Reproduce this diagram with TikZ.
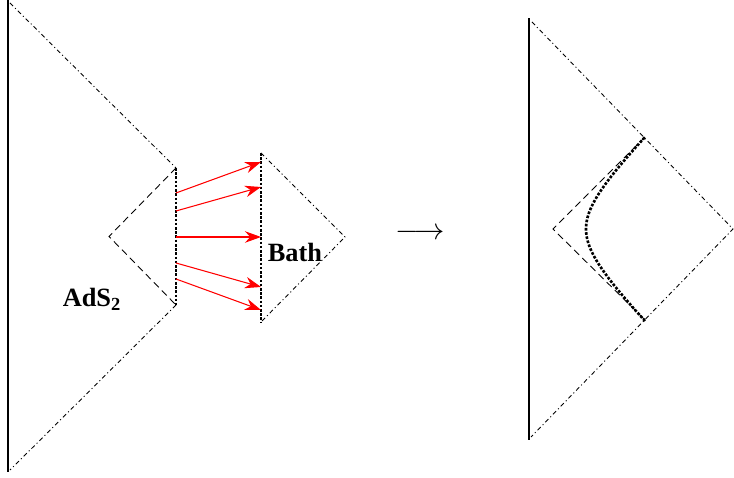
\documentclass[tikz,border=0pt]{standalone}
\usepackage{fontspec}
\setmainfont{Liberation Serif}
\usetikzlibrary{arrows.meta}

\begin{document}
\begin{tikzpicture}[
    nullline/.style={line width=0.5pt, dash pattern=on 2.5pt off 1.6pt on 0.6pt off 1.6pt},
    patchline/.style={line width=0.5pt, dash pattern=on 4pt off 2.5pt},
    cutline/.style={line width=1.5pt, dash pattern=on 1.5pt off 0.9pt},
    bdyline/.style={line width=1.2pt},
    flux/.style={red, line width=0.6pt, -{Stealth[length=3.2mm,width=2.3mm]}},
    lbl/.style={font=\fontsize{15}{18}\selectfont\bfseries}
]

    % Fix the page to the size of the picture
    \useasboundingbox (0,0) rectangle (14.68,9.56);

    % Left diagram: AdS2 boundary and the cut where the bath is glued
    \coordinate (LT) at (0.16,9.56);
    \coordinate (LB) at (0.16,0.12);
    \coordinate (LTn) at (0.2,9.5);
    \coordinate (LBn) at (0.2,0.16);
    % Ends of the cut on the AdS2 side
    \coordinate (JT) at (3.52,6.2);
    \coordinate (JB) at (3.52,3.46);
    \coordinate (JL) at (2.18,4.83);
    % The bath diamond
    \coordinate (BT) at (5.22,6.5);
    \coordinate (BB) at (5.22,3.12);
    \coordinate (BR) at (6.9,4.82);

    % Draw the boundary and the null lines
    \draw[bdyline] (LB) -- (LT);
    \draw[nullline] (LTn) -- (JT);
    \draw[nullline] (JB) -- (LBn);
    \draw[patchline] (JT) -- (JL) -- (JB);
    \draw[cutline] (JT) -- (JB);
    \draw[cutline] (BT) -- (BB);
    \draw[nullline] (BT) -- (BR) -- (BB);

    % Red arrows from the cut into the bath
    \foreach \i/\ys/\ye in {1/5.70/6.32, 2/5.34/5.82, 3/4.82/4.82, 4/4.30/3.82, 5/3.98/3.36} {
        \coordinate (s\i) at (3.52,\ys);
        \coordinate (e\i) at (5.22,\ye);
        \draw[flux] (s\i) -- (e\i);
    }

    % Labels
    \node[lbl] (bath) at (5.9,4.52) {Bath};
    \node[lbl] (ads) at (1.84,3.58) {AdS\textsubscript{2}};

    % The map between the two pictures
    \node[font=\fontsize{18}{21}\selectfont] (map) at (8.4,4.88) {$\longrightarrow$};

    % Right diagram
    \coordinate (RT) at (10.58,9.2);
    \coordinate (RB) at (10.58,0.76);
    \coordinate (RTn) at (10.64,9.12);
    \coordinate (RBn) at (10.62,0.82);
    \coordinate (RR) at (14.66,4.98);
    % Inner diamond
    \coordinate (DT) at (12.9,6.82);
    \coordinate (DB) at (12.9,3.16);
    \coordinate (DL) at (11.06,4.98);

    \draw[bdyline] (RB) -- (RT);
    \draw[nullline] (RTn) -- (RR) -- (RBn);
    \draw[patchline] (DT) -- (DL) -- (DB);
    % Curved cut (hyperbola through DT and DB)
    \draw[cutline] plot[domain=-1.84:1.84, samples=40] ({10.876+sqrt(0.712+\x*\x)},{4.98+\x});

\end{tikzpicture}
\end{document}
